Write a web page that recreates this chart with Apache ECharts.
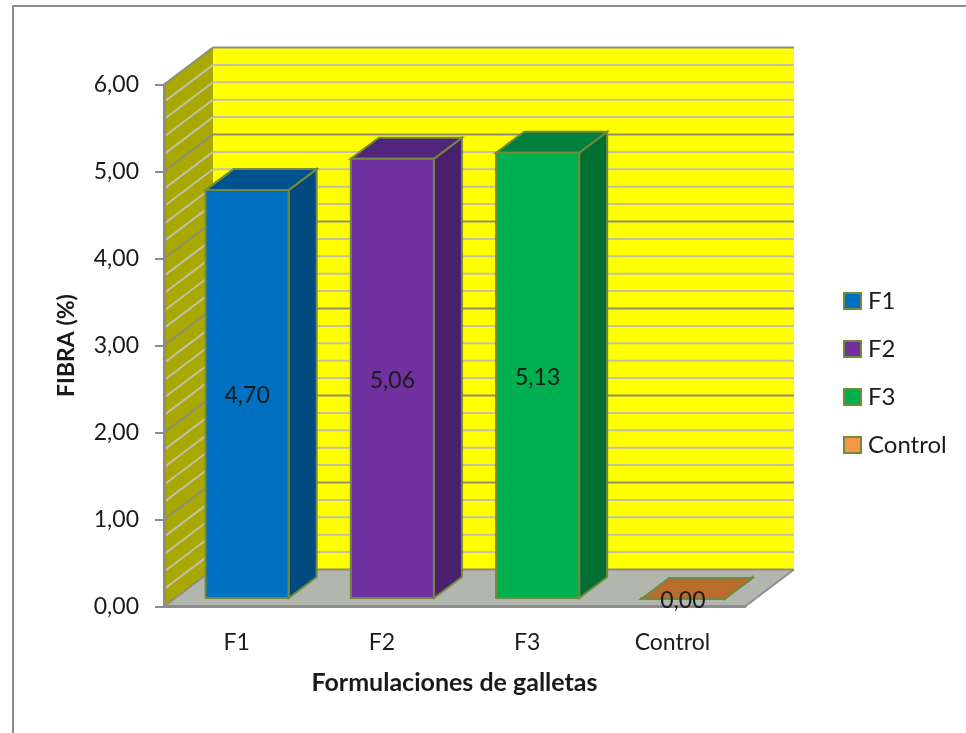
<!DOCTYPE html>
<html>
<head>
<meta charset="utf-8">
<title>Fibra</title>
<script src="https://cdn.jsdelivr.net/npm/echarts@6/dist/echarts.min.js"></script>
<style>
html, body { margin: 0; padding: 0; background: #fff; }
#chart { width: 966px; height: 733px; }
</style>
</head>
<body>
<div id="chart"></div>
<script>
const categories = ['F1', 'F2', 'F3', 'Control']
const fibra = [4.70, 5.06, 5.13, 0.00]
const frontColors = ['#0070C0', '#7030A0', '#00B050', '#F79646']
const topColors = ['#00528E', '#52237A', '#00803A', '#B96C2E']
const sideColors = ['#004A80', '#4A206C', '#006F33', '#A55F28']
const yTicks = [0, 1, 2, 3, 4, 5, 6]
const gridLevels = [0, 0.2, 0.4, 0.6, 0.8, 1, 1.2, 1.4, 1.6, 1.8, 2, 2.2, 2.4, 2.6, 2.8, 3,
  3.2, 3.4, 3.6, 3.8, 4, 4.2, 4.4, 4.6, 4.8, 5, 5.2, 5.4, 5.6, 5.8, 6]

const FONT = 'Lato'
const DEPTH_X = 49
const DEPTH_Y = -37
const EDGE = '#728A3C'

function comma(v) {
  return Number(v).toFixed(2).replace('.', ',')
}

function poly(points, fill, stroke, width) {
  return {
    type: 'polygon',
    shape: { points: points },
    style: { fill: fill, stroke: stroke || null, lineWidth: width || 0 }
  }
}

function line(x1, y1, x2, y2, color, width) {
  return {
    type: 'line',
    shape: { x1: x1, y1: y1, x2: x2, y2: y2 },
    style: { stroke: color, lineWidth: width }
  }
}

// side wall, back wall and floor, one item per grid level
function renderWall(params, api) {
  const level = api.value(1)
  const left = params.coordSys.x
  const right = left + params.coordSys.width
  const y = api.coord([0, level])[1]
  const major = yTicks.indexOf(level) >= 0
  const color = major ? '#8E8E78' : '#C2C0A8'
  const children = []
  if (params.dataIndex === 0) {
    const top = api.coord([0, 6])[1]
    const bx = left + DEPTH_X
    children.push(poly([[left, top], [bx, top + DEPTH_Y], [bx, y + DEPTH_Y], [left, y]], '#A8A800'))
    children.push(poly([[bx, top + DEPTH_Y], [right + DEPTH_X, top + DEPTH_Y], [right + DEPTH_X, y + DEPTH_Y], [bx, y + DEPTH_Y]], '#FFFF00'))
    children.push(poly([[left, y], [right, y], [right + DEPTH_X, y + DEPTH_Y], [bx, y + DEPTH_Y]], '#B3B5AF'))
    children.push(line(right, y, right + DEPTH_X, y + DEPTH_Y, '#8E8E8E', 2))
  }
  children.push(line(left, y, left + DEPTH_X, y + DEPTH_Y, color, 2))
  children.push(line(left + DEPTH_X, y + DEPTH_Y, right + DEPTH_X, y + DEPTH_Y, color, 2))
  return { type: 'group', children: children }
}

function renderBar(params, api) {
  const i = api.value(0)
  const base = api.coord([i, 0])
  const head = api.coord([i, api.value(1)])
  const halfW = api.size([1, 0])[0] * 0.286
  const x0 = base[0] + 10.5 - halfW
  const x1 = base[0] + 10.5 + halfW
  const yb = base[1] - 8.5
  const yt = head[1] - 7.5
  const dx = 28
  const dy = -21
  return {
    type: 'group',
    children: [
      poly([[x1, yt], [x1 + dx, yt + dy], [x1 + dx, yb + dy], [x1, yb]], sideColors[i], EDGE, 2),
      poly([[x0, yt], [x1, yt], [x1 + dx, yt + dy], [x0 + dx, yt + dy]], topColors[i], EDGE, 2),
      poly([[x0, yt], [x1, yt], [x1, yb], [x0, yb]], frontColors[i], EDGE, 2),
      {
        type: 'text',
        style: {
          x: base[0] + 10.5,
          y: (yt + yb) / 2 + 2,
          text: comma(api.value(1)),
          align: 'center',
          verticalAlign: 'middle',
          fill: '#1a1a1a',
          font: '23px ' + FONT
        }
      }
    ]
  }
}

const barSeries = categories.map((name, i) => ({
  name: name,
  type: 'custom',
  z: 3,
  silent: true,
  renderItem: renderBar,
  itemStyle: { color: frontColors[i] },
  encode: { x: 0, y: 1 },
  data: [[i, fibra[i]]]
}))

const chart = echarts.init(document.getElementById('chart'))
chart.setOption({
  animation: false,
  backgroundColor: '#fff',
  textStyle: { fontFamily: FONT },
  grid: { left: 164, right: 221, top: 84.5, bottom: 126.5 },
  graphic: [
    { type: 'polyline', silent: true, shape: { points: [[13, 733], [13, 6], [966, 6]] }, style: { fill: null, stroke: '#8C8C8C', lineWidth: 2 } }
  ],
  legend: {
    orient: 'vertical',
    left: 843,
    top: 289,
    padding: 0,
    itemWidth: 17,
    itemHeight: 16,
    itemGap: 24,
    icon: 'rect',
    data: categories,
    itemStyle: { borderColor: EDGE, borderWidth: 2 },
    textStyle: { fontFamily: FONT, fontSize: 24, lineHeight: 24, color: '#1a1a1a', padding: [0, 0, 0, 2] }
  },
  xAxis: {
    type: 'category',
    data: categories,
    z: 1,
    name: 'Formulaciones de galletas',
    nameLocation: 'middle',
    nameGap: 64,
    nameTextStyle: { fontFamily: FONT, fontWeight: 'bold', fontSize: 25, color: '#1a1a1a' },
    axisLine: { lineStyle: { color: '#8C8C8C', width: 3 } },
    axisTick: { show: false },
    axisLabel: { margin: 25, fontFamily: FONT, fontSize: 23, color: '#1a1a1a' }
  },
  yAxis: {
    type: 'value',
    min: 0,
    max: 6,
    interval: 1,
    z: 1,
    name: 'FIBRA (%)',
    nameLocation: 'middle',
    nameGap: 86,
    nameTextStyle: { fontFamily: FONT, fontWeight: 'bold', fontSize: 23, color: '#1a1a1a' },
    axisLine: { show: true, lineStyle: { color: '#8C8C8C', width: 3 } },
    axisTick: { show: true, length: 9, lineStyle: { color: '#8C8C8C', width: 2 } },
    axisLabel: { margin: 25, fontFamily: FONT, fontSize: 23, color: '#1a1a1a', formatter: comma },
    splitLine: { show: false }
  },
  series: [
    {
      type: 'custom',
      name: 'paredes',
      z: 0,
      silent: true,
      renderItem: renderWall,
      encode: { x: 0, y: 1 },
      data: gridLevels.map(v => [0, v])
    }
  ].concat(barSeries)
})
</script>
</body>
</html>
